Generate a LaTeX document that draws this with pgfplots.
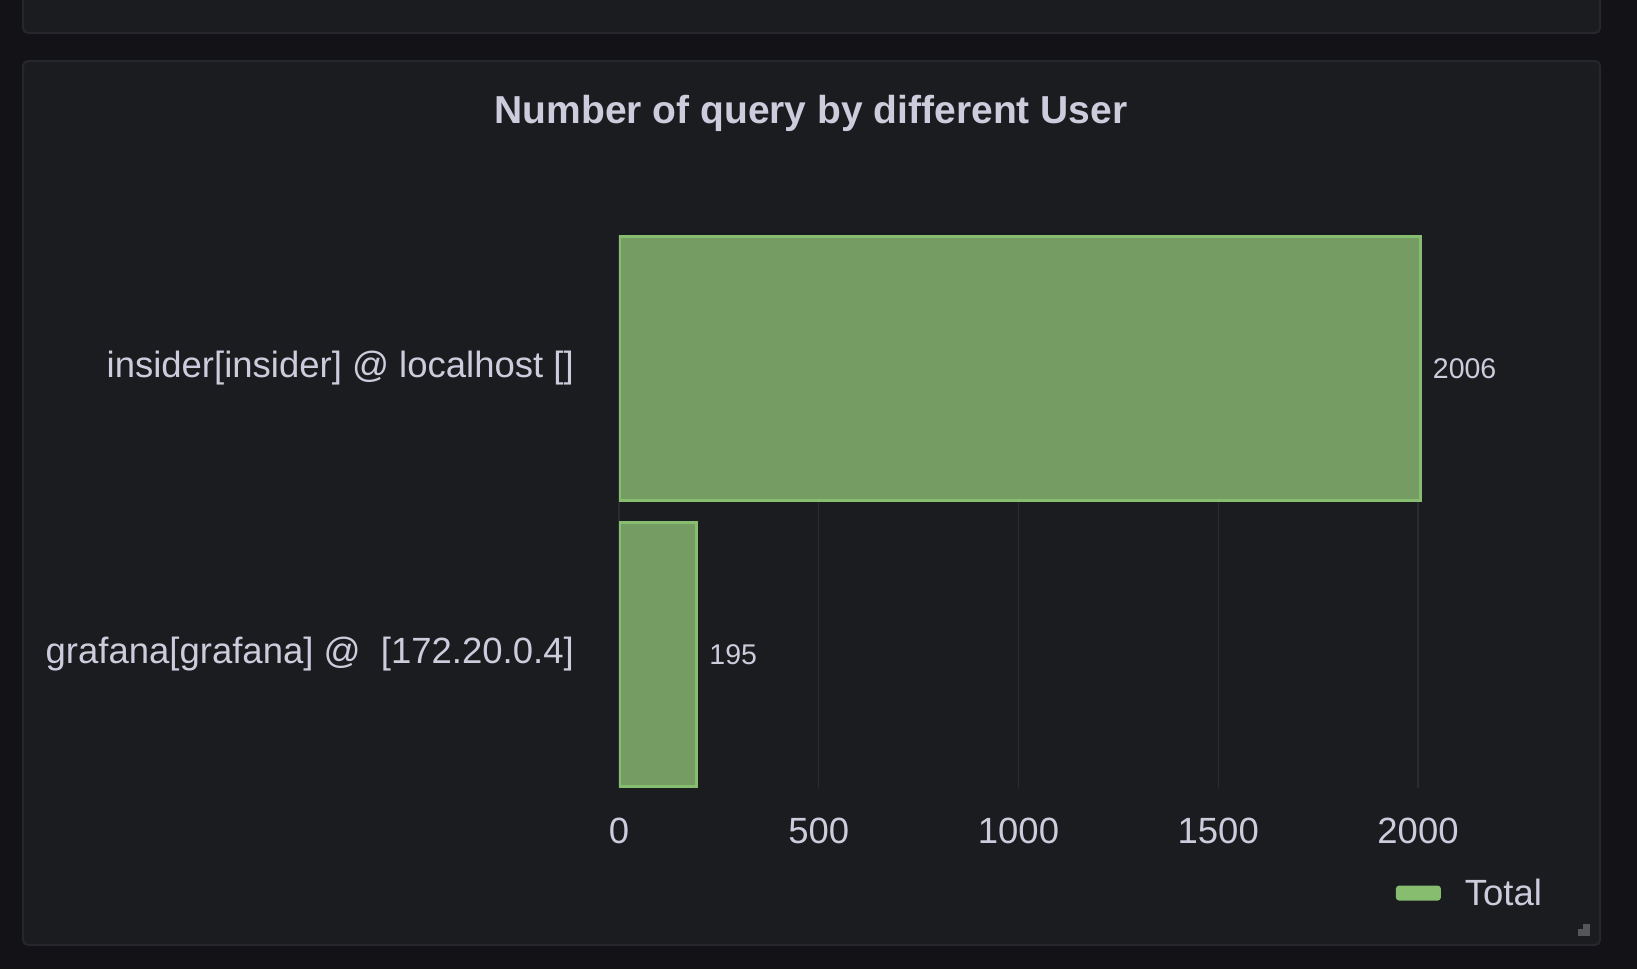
\documentclass[border=0pt]{standalone}
\usepackage{fontspec}
\setmainfont{Liberation Sans}
\usepackage{pgfplots}
\pgfplotsset{compat=1.18}
\definecolor{canvas}{HTML}{131317}
\definecolor{panel}{HTML}{1B1C20}
\definecolor{panelborder}{HTML}{26272C}
\definecolor{txt}{HTML}{CCCCDC}
\definecolor{gridc}{HTML}{2B2C31}
\definecolor{barfill}{HTML}{759C63}
\definecolor{barline}{HTML}{86BD6E}
\definecolor{handle}{HTML}{55565A}

\begin{document}
\begin{tikzpicture}
% 1 px of the reference = 1pt here
\path[use as bounding box] (0,0) rectangle (1637pt,-969pt);
\fill[canvas] (0,0) rectangle (1637pt,-969pt);
\filldraw[fill=panel, draw=panelborder, line width=2pt, rounded corners=5pt] (23pt,10pt) rectangle (1600pt,-33pt);
\filldraw[fill=panel, draw=panelborder, line width=2pt, rounded corners=5pt] (23pt,-61pt) rectangle (1600pt,-945pt);
\node[anchor=base, text=txt, font=\fontsize{39}{45}\selectfont\bfseries] at (811pt,-123pt) {Number of query by different User};
\fill[handle] (1583pt,-924pt) rectangle (1590pt,-936pt);
\fill[handle] (1578pt,-929pt) rectangle (1590pt,-936pt);

\begin{axis}[
  at={(619pt,-788pt)}, anchor=south west, scale only axis,
  width=958.8pt, height=553pt,
  xbar, bar width=264pt, bar shift=0pt,
  xmin=0, xmax=2400, ymin=-0.467, ymax=1.467,
  xtick={0,500,...,2000}, ytick={0,1},
  yticklabels={grafana[grafana] @\ \ [172.20.0.4], insider[insider] @ localhost []},
  axis line style={draw=none}, major tick length=0pt,
  xmajorgrids, grid style={gridc, line width=1.2pt},
  /pgf/number format/1000 sep={},
  /pgf/number format/assume math mode=true,
  scaled x ticks=false,
  tick label style={text=txt, font=\fontsize{36.5}{40}\selectfont, inner sep=0pt},
  x tick label style={anchor=center, yshift=-43pt},
  y tick label style={anchor=east, xshift=-45pt},
  nodes near coords,
  every node near coord/.append style={text=txt, font=\fontsize{28.5}{32}\selectfont, inner sep=0pt, anchor=west, xshift=11pt},
  legend style={at={(axis description cs:0.966,-0.19)}, anchor=east, draw=none, fill=none,
    text=txt, font=\fontsize{36.5}{40}\selectfont, nodes={inner sep=0pt}, column sep=24pt},
  legend image code/.code={\fill[barline, rounded corners=2pt] (0pt,-6pt) rectangle (42pt,6pt);},
]
\addplot[fill=barfill, draw=barline, line width=3pt] coordinates {(195,0) (2006,1)};
\legend{Total}
\end{axis}
\end{tikzpicture}
\end{document}
